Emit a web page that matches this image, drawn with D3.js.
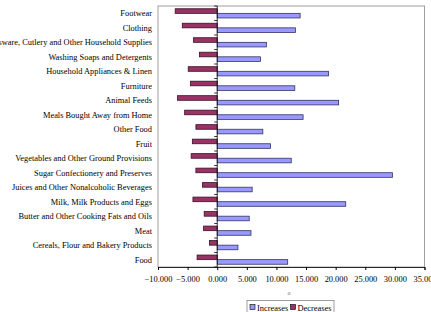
<!DOCTYPE html>
<html><head><meta charset="utf-8">
<script src="https://cdn.jsdelivr.net/npm/d3@7"></script>
<style>body{margin:0;background:#fff}svg{display:block}text{font-family:"Liberation Serif","Times New Roman",serif}</style>
</head><body>
<script>
const categories = ["Footwear","Clothing","Glassware, Cutlery and Other Household Supplies","Washing Soaps and Detergents","Household Appliances & Linen","Furniture","Animal Feeds","Meals Bought Away from Home","Other Food","Fruit","Vegetables and Other Ground Provisions","Sugar Confectionery and Preserves","Juices and Other Nonalcoholic Beverages","Milk, Milk Products and Eggs","Butter and Other Cooking Fats and Oils","Meat","Cereals, Flour and Bakery Products","Food"];
const increases = [14.0,13.2,8.3,7.3,18.8,13.1,20.5,14.5,7.7,9.0,12.5,29.6,5.9,21.7,5.4,5.7,3.5,11.9];
const decreases = [-7.1,-5.9,-4.0,-3.0,-4.9,-4.5,-6.7,-5.5,-3.6,-4.2,-4.4,-3.6,-2.5,-4.1,-2.2,-2.3,-1.3,-3.4];
const xTicks = [-10,-5,0,5,10,15,20,25,30,35];
const seriesNames = ["Increases","Decreases"];
const colors = ["#9999ff","#993366"];
const strokes = ["#333366","#3a0f24"];

const W=431,H=312;
const svg=d3.select("body").append("svg").attr("width",W).attr("height",H);
const L=158,R=424.5,T=6,B=267;
const x=d3.scaleLinear().domain([-10,35]).range([L,R]);
const y=d3.scaleBand().domain(categories).range([T,B]).paddingInner(0.365).paddingOuter(0.19);
const sub=d3.scaleBand().domain(["Decreases","Increases"]).range([0,y.bandwidth()]);
const fs=8.4;

// plot border
svg.append("rect").attr("x",L).attr("y",T).attr("width",R-L).attr("height",B-T).attr("fill","none").attr("stroke","#a0a0a0").attr("stroke-width",1);

// bars
const g=svg.append("g");
categories.forEach((c,i)=>{
  g.append("rect").attr("x",x(decreases[i])).attr("y",y(c)+sub("Decreases")).attr("width",x(0)-x(decreases[i])).attr("height",sub.bandwidth())
    .attr("fill",colors[1]).attr("stroke",strokes[1]).attr("stroke-width",0.8);
  g.append("rect").attr("x",x(0)).attr("y",y(c)+sub("Increases")).attr("width",x(increases[i])-x(0)).attr("height",sub.bandwidth())
    .attr("fill",colors[0]).attr("stroke",strokes[0]).attr("stroke-width",0.8);
});

// x axis
const xa=svg.append("g").attr("transform",`translate(0,${B})`)
  .call(d3.axisBottom(x).tickValues(xTicks).tickSize(3).tickFormat(d=>d3.format(".3f")(d)));
xa.select(".domain").attr("stroke","#000").attr("stroke-width",0.8);
xa.selectAll(".tick line").attr("stroke","#000");
xa.selectAll("text").attr("font-size",fs).attr("font-family","Liberation Serif").attr("dy","1.05em").attr("fill","#000");

// zero category axis with ticks
const step=y.step();
svg.append("line").attr("x1",x(0)).attr("x2",x(0)).attr("y1",T).attr("y2",B).attr("stroke","#000").attr("stroke-width",0.8);
d3.range(categories.length+1).forEach(k=>{
  const yy=T+k*(B-T)/categories.length;
  svg.append("line").attr("x1",x(0)-3).attr("x2",x(0)).attr("y1",yy).attr("y2",yy).attr("stroke","#000").attr("stroke-width",0.8);
});

// category labels
svg.append("g").selectAll("text").data(categories).join("text")
  .attr("x",152).attr("y",d=>y(d)+y.bandwidth()/2).attr("dy","0.35em")
  .attr("text-anchor","end").attr("font-size",fs).attr("fill","#000").text(d=>d);

// x axis title
svg.append("text").attr("x",289).attr("y",295).attr("text-anchor","middle").attr("font-size",6).attr("fill","#888").text("ø");

// legend
const lg=svg.append("g");
lg.append("rect").attr("x",247).attr("y",300.5).attr("width",87).attr("height",14).attr("fill","#fff").attr("stroke","#888").attr("stroke-width",0.8);
const lx=[250,290.5];
seriesNames.forEach((s,i)=>{
  lg.append("rect").attr("x",lx[i]).attr("y",304.5).attr("width",5).attr("height",5).attr("fill",colors[i]).attr("stroke","#000").attr("stroke-width",0.6);
  lg.append("text").attr("x",lx[i]+7).attr("y",310.5).attr("font-size",fs).attr("fill","#000").text(s);
});
</script>
</body></html>
